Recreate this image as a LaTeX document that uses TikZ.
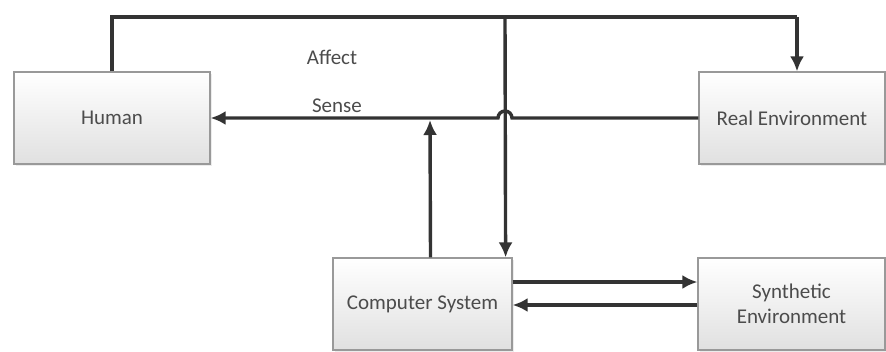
\documentclass[tikz,border=0pt]{standalone}
\usepackage{fontspec}
\setmainfont{Carlito}
\usepackage{tikz}
\usetikzlibrary{positioning,shapes,arrows,arrows.meta,shadows}

\begin{document}
\begin{tikzpicture}[
                x=1pt, y=1pt,
                font=\fontsize{21}{25}\selectfont,
                block/.style={rectangle, draw=black!40, line width=1.2pt, top color=white, bottom color=black!12,
                    text=black!70, align=center, minimum height=92pt,
                    drop shadow={opacity=0.15, shadow xshift=2pt, shadow yshift=-2pt}},
                flow/.style={line width=3.4pt, draw=black!80},
                lbl/.style={text=black!70},
                > = {Latex[length=15pt, width=14pt]}
            ]
            \useasboundingbox (0,0) rectangle (886,-351);

            \node[block, minimum width=196pt] (Human) at (112,-118) {Human};
            \node[block, minimum width=186pt] (RealEnv) at (792,-118) {Real Environment};
            \node[block, minimum width=179pt] (Computer) at (422.5,-304) {Computer System};
            \node[block, minimum width=187pt] (SynthEnv) at (791.5,-304) {Synthetic\\Environment};

            \node[lbl] (Affect) at (332,-57) {Affect};
            \node[lbl] (Sense) at (337,-106) {Sense};

            \coordinate (top_left) at (112,-17);
            \coordinate (top_mid) at (505,-17);
            \coordinate (top_right) at (797,-17);
            \coordinate (hop) at (512,-118);

            % affect: human -> real environment, branch down to the computer
            \draw[flow] (Human.north) -- (top_left) -- (top_right) edge[flow, ->] ([xshift=5pt]RealEnv.north);
            \draw[flow] (top_mid) edge[flow, ->] ([xshift=-7pt]Computer.north east);

            % sense: real environment -> human, hopping over the branch
            \draw[flow, ->] (RealEnv.west) -- (hop) arc (0:180:7) -- (Human.east);
            \draw[flow] ([xshift=8pt]Computer.north) edge[flow, ->] (430,-120);

            \draw[flow] ([yshift=22pt]Computer.east) edge[flow, ->] ([yshift=22pt]SynthEnv.west);
            \draw[flow] ([yshift=-1pt]SynthEnv.west) edge[flow, ->] ([yshift=-1pt]Computer.east);
        \end{tikzpicture}
\end{document}
